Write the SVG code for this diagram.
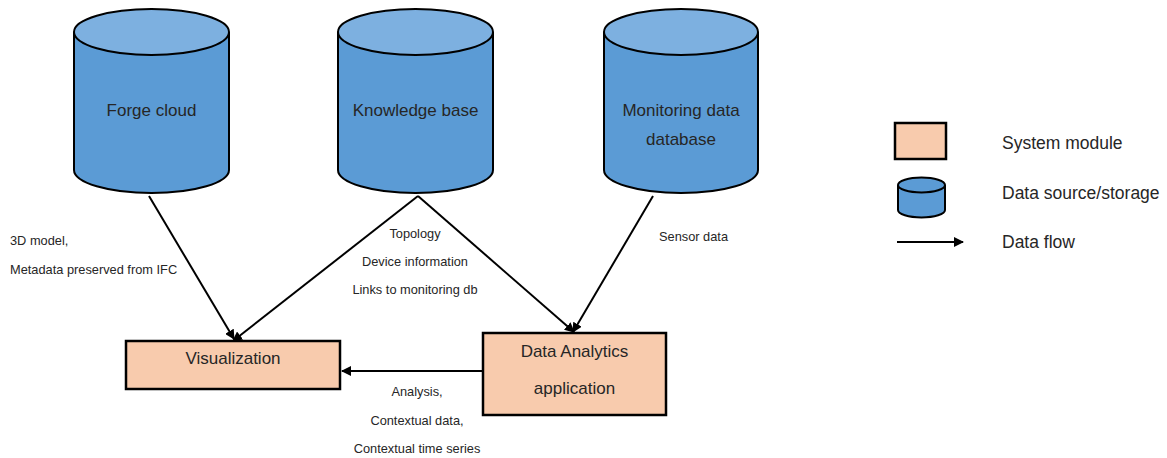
<svg xmlns="http://www.w3.org/2000/svg" width="1167" height="458" viewBox="0 0 1167 458">
<style>
.body{fill:#5B9BD5;stroke:#000;stroke-width:2}
.top{fill:#7DB0E0;stroke:#000;stroke-width:2}
.mod{fill:#F8CBAD;stroke:#000;stroke-width:2.5}
.t{font-family:"Liberation Sans",Arial,sans-serif;fill:#262626}
.big{font-size:17px}
.sm{font-size:12.8px}
.leg{font-size:17.5px}
.c{stroke:#000;stroke-width:2;fill:none;marker-end:url(#ah)}
</style>
<defs>
<marker id="ah" viewBox="0 0 10 10" refX="9" refY="5" markerWidth="5" markerHeight="5" orient="auto" markerUnits="strokeWidth">
<path d="M0,0 L10,5 L0,10 z" fill="#000"/>
</marker>
</defs>
<rect width="1167" height="458" fill="#fff"/>
<g id="forge">
<path class="body" d="M74,32 L74,170 A77.5,23 0 0 0 229,170 L229,32"/>
<ellipse class="top" cx="151.5" cy="32" rx="77.5" ry="23"/>
<text class="t big" x="151.5" y="116" text-anchor="middle">Forge cloud</text>
</g>
<g id="kb">
<path class="body" d="M338,32 L338,170 A77.5,23 0 0 0 493,170 L493,32"/>
<ellipse class="top" cx="415.5" cy="32" rx="77.5" ry="23"/>
<text class="t big" x="415.5" y="116" text-anchor="middle">Knowledge base</text>
</g>
<g id="mon">
<path class="body" d="M604,32 L604,170 A77,23 0 0 0 758,170 L758,32"/>
<ellipse class="top" cx="681" cy="32" rx="77" ry="23"/>
<text class="t big" x="681" y="116" text-anchor="middle">Monitoring data</text>
<text class="t big" x="681" y="145" text-anchor="middle">database</text>
</g>
<g id="vis">
<rect class="mod" x="126" y="341" width="214" height="48"/>
<text class="t big" x="233" y="364" text-anchor="middle">Visualization</text>
</g>
<g id="daa">
<rect class="mod" x="483" y="333" width="183" height="82"/>
<text class="t big" x="574.5" y="357" text-anchor="middle">Data Analytics</text>
<text class="t big" x="574.5" y="394" text-anchor="middle">application</text>
</g>
<g id="connectors">
<line class="c" x1="149" y1="196" x2="234" y2="339"/>
<line class="c" x1="418" y1="196" x2="233" y2="341"/>
<line class="c" x1="418" y1="196" x2="574" y2="332"/>
<line class="c" x1="653" y1="196" x2="573" y2="332"/>
<line class="c" x1="483" y1="371" x2="342" y2="371"/>
</g>
<g id="labels">
<text class="t sm" x="10" y="245">3D model,</text>
<text class="t sm" x="10" y="274">Metadata preserved from IFC</text>
<text class="t sm" x="415" y="238" text-anchor="middle">Topology</text>
<text class="t sm" x="415" y="266" text-anchor="middle">Device information</text>
<text class="t sm" x="415" y="294" text-anchor="middle">Links to monitoring db</text>
<text class="t sm" x="659" y="241">Sensor data</text>
<text class="t sm" x="417" y="396" text-anchor="middle">Analysis,</text>
<text class="t sm" x="417" y="425" text-anchor="middle">Contextual data,</text>
<text class="t sm" x="417" y="453" text-anchor="middle">Contextual time series</text>
</g>
<g id="legend">
<rect class="mod" x="895" y="123" width="51" height="36"/>
<text class="t leg" x="1002" y="149">System module</text>
<path class="body" d="M898,185 L898,210 A23.5,7.5 0 0 0 945,210 L945,185"/>
<ellipse class="body" cx="921.5" cy="185" rx="23.5" ry="7.5"/>
<text class="t leg" x="1002" y="199">Data source/storage</text>
<line class="c" x1="897" y1="242" x2="963" y2="242"/>
<text class="t leg" x="1002" y="248">Data flow</text>
</g>
</svg>
